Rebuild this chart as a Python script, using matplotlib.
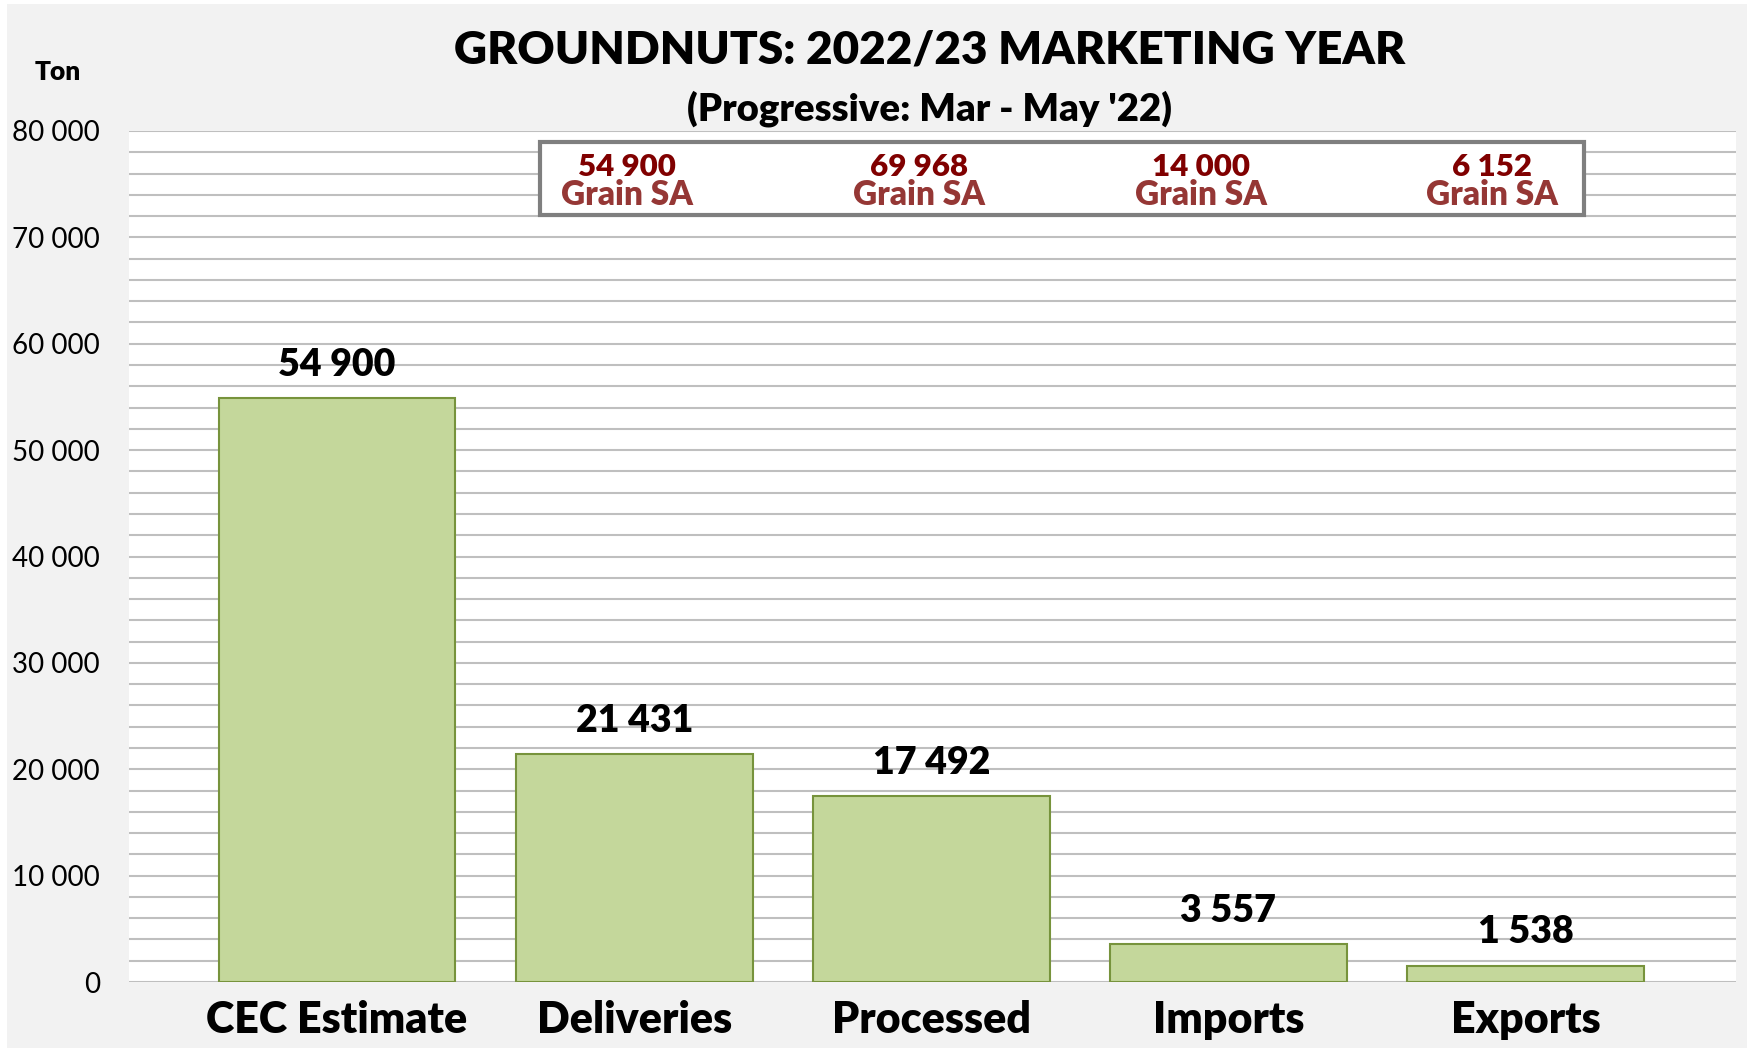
import matplotlib
matplotlib.use("Agg")
import matplotlib.pyplot as plt
from matplotlib.patches import Rectangle
from matplotlib.ticker import MultipleLocator, FuncFormatter

categories = ["CEC Estimate", "Deliveries", "Processed", "Imports", "Exports"]
values = [54900, 21431, 17492, 3557, 1538]
box_values = ["54 900", "69 968", "14 000", "6 152"]
box_source = "Grain SA"
title = "GROUNDNUTS: 2022/23 MARKETING YEAR"
subtitle = "(Progressive: Mar - May '22)"
y_unit = "Ton"

def fmt(v):
    return f"{int(v):,}".replace(",", " ")

plt.rcParams['font.family'] = ['Lato', 'DejaVu Sans']
W = 'heavy'

fig = plt.figure(figsize=(17.58, 10.52), dpi=100, facecolor='white')
fig.patches.append(Rectangle((0.004, 0.004), 0.990, 0.992, transform=fig.transFigure,
                             facecolor='#f2f2f2', edgecolor='none', zorder=-10))
ax = fig.add_axes([0.0734, 0.0665, 0.9141, 0.8090])
ax.set_facecolor('white')

x = list(range(len(categories)))
bars = ax.bar(x, values, width=0.797, color='#c4d79b', edgecolor='#77933c', linewidth=1.5, zorder=3)
ax.set_xlim(-0.700, 4.708)
ax.set_ylim(0, 80000)
ax.yaxis.set_major_locator(MultipleLocator(10000))
ax.yaxis.set_minor_locator(MultipleLocator(2000))
ax.yaxis.set_major_formatter(FuncFormatter(lambda v, p: fmt(v)))
ax.grid(axis='y', which='both', color='#bfbfbf', linewidth=1.5, zorder=0)
ax.set_axisbelow(True)
for s in ax.spines.values():
    s.set_visible(False)
ax.tick_params(axis='y', which='both', length=0, pad=21, labelsize=20)
ax.tick_params(axis='x', length=0, pad=13, labelsize=31)
ax.set_xticks(x)
ax.set_xticklabels(categories, fontweight=W)

for xi, v in zip(x, values):
    ax.annotate(fmt(v), (xi, v), xytext=(0, 24), textcoords='offset points',
                ha='center', va='center', fontsize=27, fontweight=W, color='black')

ax.add_patch(Rectangle((0.2558, 0.901), 0.6496, 0.086, transform=ax.transAxes,
                       facecolor='white', edgecolor='#7f7f7f', linewidth=3, zorder=5, clip_on=False))
for bx, bv in zip([0.310, 0.4916, 0.667, 0.848], box_values):
    ax.text(bx, 0.958, bv, transform=ax.transAxes, ha='center', va='center',
            fontsize=22.5, fontweight=W, color='#800000', zorder=6)
    ax.text(bx, 0.925, box_source, transform=ax.transAxes, ha='center', va='center',
            fontsize=24, fontweight=W, color='#953735', zorder=6)

fig.text(0.529, 0.952, title, ha='center', va='center', fontsize=33, fontweight=W)
fig.text(0.529, 0.897, subtitle, ha='center', va='center', fontsize=27.5, fontweight=W)
fig.text(0.033, 0.932, y_unit, ha='center', va='center', fontsize=19, fontweight=W)

fig.savefig('out.png', dpi=100, facecolor='white')
